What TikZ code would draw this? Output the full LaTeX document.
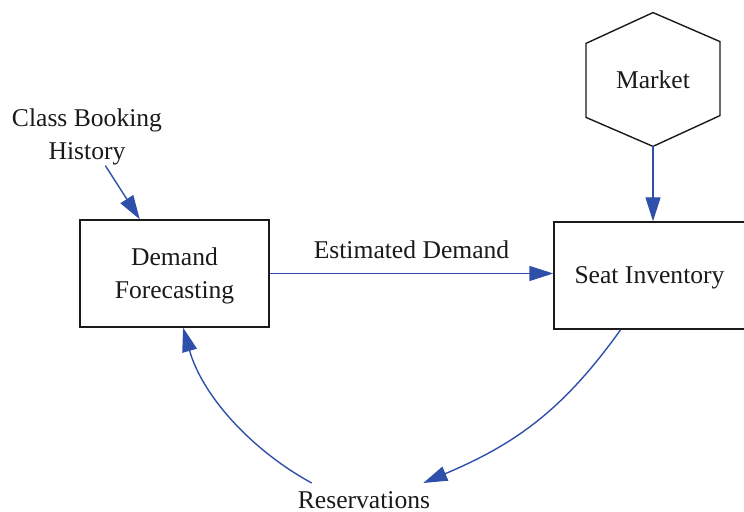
\documentclass[tikz,border=0pt]{standalone}
\usepackage{fontspec}
\setmainfont{Liberation Serif}
\usepackage{tikz}
\usetikzlibrary{arrows.meta,calc,positioning}

\begin{document}
\begin{tikzpicture} [
x=0.5pt, y=-0.5pt,
every node/.style = { font=\fontsize{12.8}{16.6}\selectfont, text=ink },
box/.style    = { rectangle, draw=ink, line width=0.7pt,
    minimum width=94.5pt, minimum height=53.5pt,
    align=center, inner sep=0pt, text depth=0pt },
hexnode/.style    = { inner sep=0pt, minimum width=67pt, minimum height=66.5pt },
plain/.style    = { align=center, inner sep=0pt },
line/.style     = { draw=flow, line width=0.7pt,
    -{Triangle[length=12pt, width=7.5pt]} },
]
\definecolor{ink}{RGB}{26,26,26}
\definecolor{flow}{RGB}{47,80,170}

\useasboundingbox (0,0) rectangle (744,512);

% Define nodes
\node [box] (forecast) at (174.5,273.5) {Demand\\Forecasting};
\node [box, minimum width=95.5pt] (inventory) at (649.5,275.5) {Seat Inventory};
\node [hexnode] (market) at (653,79.5) {Market};
\node [plain] (history) at (87,137) {Class Booking\\History};
\node [plain, inner sep=4pt] (reservations) at (364,500) {Reservations};

\draw [ink, line width=0.7pt] (market.north) -- ++(67,29) -- ++(0,74) -- (market.south)
    -- ++(-67,-29) -- ++(0,-74) -- cycle;

% connect all nodes defined above
\begin{scope} [every path/.style=line]
\path (history)     --  (forecast);
\path (market)      --  (inventory.north -| market);
\path (forecast.east) -- (forecast.east -| inventory.west)
    node [midway, above=7pt, inner sep=0pt] {Estimated Demand};
\path ($(inventory.south west)!0.35!(inventory.south east)$)
    .. controls +(-58,81) and +(92,-39) .. (reservations.16);
\path (reservations.162)
    .. controls +(-62,-34) and +(19,67) .. (forecast.-81);
\end{scope}

\end{tikzpicture}
\end{document}
